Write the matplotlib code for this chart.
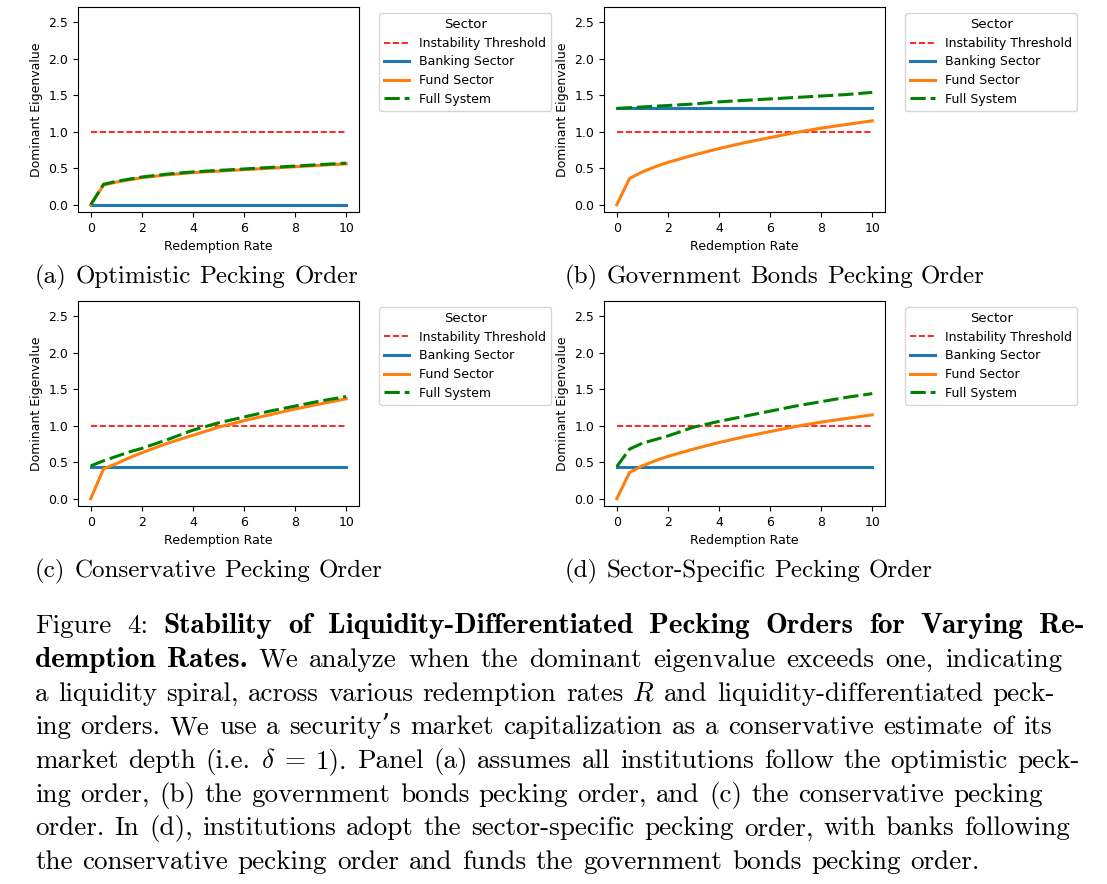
import matplotlib.pyplot as plt

plt.rcParams['mathtext.fontset'] = 'cm'
plt.rcParams['font.size'] = 9

# redemption rates and dominant eigenvalues
R = [0, 0.5, 1, 1.5, 2, 3, 4, 5, 6, 7, 8, 9, 10]
threshold = [1.0] * len(R)

bank_a = [0.00, 0.00, 0.00, 0.00, 0.00, 0.00, 0.00, 0.00, 0.00, 0.00, 0.00, 0.00, 0.00]
fund_a = [0.00, 0.27, 0.31, 0.34, 0.37, 0.41, 0.44, 0.46, 0.48, 0.50, 0.52, 0.54, 0.56]
full_a = [0.00, 0.28, 0.32, 0.35, 0.38, 0.42, 0.45, 0.47, 0.49, 0.51, 0.53, 0.55, 0.57]

bank_b = [1.32, 1.32, 1.32, 1.32, 1.32, 1.32, 1.32, 1.32, 1.32, 1.32, 1.32, 1.32, 1.32]
fund_b = [0.00, 0.36, 0.45, 0.52, 0.58, 0.68, 0.77, 0.85, 0.92, 0.99, 1.05, 1.10, 1.15]
full_b = [1.32, 1.33, 1.34, 1.35, 1.36, 1.38, 1.41, 1.43, 1.45, 1.47, 1.49, 1.51, 1.54]

bank_c = [0.44, 0.44, 0.44, 0.44, 0.44, 0.44, 0.44, 0.44, 0.44, 0.44, 0.44, 0.44, 0.44]
fund_c = [0.00, 0.41, 0.48, 0.56, 0.63, 0.76, 0.87, 0.98, 1.07, 1.15, 1.23, 1.30, 1.37]
full_c = [0.45, 0.52, 0.58, 0.64, 0.69, 0.81, 0.94, 1.04, 1.12, 1.20, 1.27, 1.34, 1.40]

bank_d = [0.44, 0.44, 0.44, 0.44, 0.44, 0.44, 0.44, 0.44, 0.44, 0.44, 0.44, 0.44, 0.44]
fund_d = [0.00, 0.36, 0.45, 0.52, 0.58, 0.68, 0.77, 0.85, 0.92, 0.99, 1.05, 1.10, 1.15]
full_d = [0.44, 0.68, 0.76, 0.81, 0.86, 0.98, 1.06, 1.13, 1.20, 1.27, 1.33, 1.39, 1.44]

panels = [
    ("(a) Optimistic Pecking Order", bank_a, fund_a, full_a),
    ("(b) Government Bonds Pecking Order", bank_b, fund_b, full_b),
    ("(c) Conservative Pecking Order", bank_c, fund_c, full_c),
    ("(d) Sector-Specific Pecking Order", bank_d, fund_d, full_d),
]

caption = [
    [("Figure 4:", "r"), ("Stability of Liquidity-Differentiated Pecking Orders for Varying Re-", "b")],
    [("demption Rates.", "b"), ("We analyze when the dominant eigenvalue exceeds one, indicating", "r")],
    [("a liquidity spiral, across various redemption rates", "r"), ("$R$", "m"),
     ("and liquidity-differentiated peck-", "r")],
    [("ing orders. We use a security\u2019s market capitalization as a conservative estimate of its", "r")],
    [("market depth (i.e.", "r"), ("$\\delta$", "m"),
     ("= 1). Panel (a) assumes all institutions follow the optimistic peck-", "r")],
    [("ing order, (b) the government bonds pecking order, and (c) the conservative pecking", "r")],
    [("order. In (d), institutions adopt the sector-specific pecking order, with banks following", "r")],
    [("the conservative pecking order and funds the government bonds pecking order.", "r")],
]

W, H = 1107, 884
fig = plt.figure(figsize=(W / 100, H / 100), dpi=100)

# axes boxes in pixels: left, top, right, bottom
boxes = [(78, 7, 359, 212), (604, 7, 885, 212), (78, 301, 359, 506), (604, 301, 885, 506)]
sub_pos = [(35, 283, 358), (565, 283, 985), (35, 577, 383), (565, 577, 933)]
cap_ends = [1085, 1062, 1055, 1052, 1080, 1043, 1070, None]

for (title, bank, fund, full), (l, t, r, b) in zip(panels, boxes):
    ax = fig.add_axes([l / W, 1 - b / H, (r - l) / W, (b - t) / H])
    ax.plot(R, threshold, color='red', linestyle='--', linewidth=1.2, label='Instability Threshold')
    ax.plot(R, bank, color='#1f77b4', linewidth=2.2, label='Banking Sector')
    ax.plot(R, fund, color='#ff7f0e', linewidth=2.2, label='Fund Sector')
    ax.plot(R, full, color='green', linestyle=(0, (5, 1.6)), linewidth=2.2, label='Full System')
    ax.set_ylim(-0.1, 2.71)
    ax.set_xlabel("Redemption Rate")
    ax.set_ylabel("Dominant Eigenvalue")
    ax.legend(title="Sector", bbox_to_anchor=(1.05, 1), loc='upper left', fontsize=9,
              title_fontsize=9.5, labelspacing=0.45)

renderer = fig.canvas.get_renderer()
fam = {'r': ['cmr10', 'DejaVu Serif'], 'b': ['cmb10', 'DejaVu Serif'], 'm': ['cmr10', 'DejaVu Serif']}


def put_words(segments, x0, y, x1, size, bold_size=None):
    texts = []
    for seg, style in segments:
        words = [seg] if style == 'm' else seg.split(' ')
        fs = bold_size if (style == 'b' and bold_size) else size
        for w in words:
            texts.append(fig.text(0, 1 - y / H, w, fontsize=fs, family=fam[style],
                                  ha='left', va='baseline'))
    widths = [t.get_window_extent(renderer).width for t in texts]
    if x1 is None or len(texts) < 2:
        gap = 0.36 * size * 100 / 72
    else:
        gap = (x1 - x0 - sum(widths)) / (len(texts) - 1)
    x = x0
    for t, w in zip(texts, widths):
        t.set_x(x / W)
        x += w + gap


for (title, *_), (x0, y0, x1) in zip(panels, sub_pos):
    put_words([(title, 'r')], x0, y0, x1, 18)

for i, line in enumerate(caption):
    put_words(line, 35, 633.3 + 33.67 * i, cap_ends[i], 19.5, bold_size=21)

fig.savefig("out.png", dpi=100)
